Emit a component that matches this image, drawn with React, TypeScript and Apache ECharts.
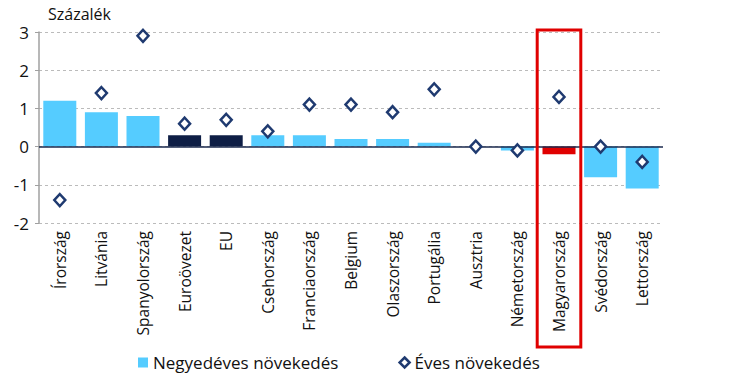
import React, { useEffect, useRef } from "react";
import * as echarts from "echarts";

const categories = ["Írország", "Litvánia", "Spanyolország", "Euroövezet", "EU", "Csehország", "Franciaország", "Belgium", "Olaszország", "Portugália", "Ausztria", "Németország", "Magyarország", "Svédország", "Lettország"];
const quarterly = [1.2, 0.9, 0.8, 0.3, 0.3, 0.3, 0.3, 0.2, 0.2, 0.1, 0.0, -0.1, -0.2, -0.8, -1.1];
const annual = [-1.4, 1.4, 2.9, 0.6, 0.7, 0.4, 1.1, 1.1, 0.9, 1.5, 0.0, -0.1, 1.3, 0.0, -0.4];
const yTicks = [-2, -1, 0, 1, 2, 3];
const darkCats = ["Euroövezet", "EU"];
const highlightCat = "Magyarország";

const LIGHT = "#55CCFF";
const DARK = "#0E1E45";
const RED = "#E00000";
const NAVY = "#1F3A70";

export default function App() {
  const ref = useRef<HTMLDivElement>(null);
  useEffect(() => {
    if (!ref.current) return;
    const chart = echarts.init(ref.current, undefined, { renderer: "svg" });
    const gridLeft = 39, gridRight = 67, gridTop = 32, gridBottom = 168;
    const plotW = 730 - gridLeft - gridRight;
    const catW = plotW / categories.length;
    const hi = categories.indexOf(highlightCat);
    chart.setOption({
      animation: false,
      grid: { left: gridLeft, right: gridRight, top: gridTop, bottom: gridBottom, containLabel: false },
      legend: {
        left: 133,
        top: 349,
        itemGap: 60,
        itemWidth: 10,
        itemHeight: 10,
        textStyle: { fontFamily: "Liberation Sans Narrow, Open Sans, sans-serif", fontSize: 17, color: "#111" },
        data: [
          { name: "Negyedéves növekedés", icon: "rect", itemStyle: { color: LIGHT } },
          { name: "Éves növekedés", icon: "diamond", itemStyle: { color: "#fff", borderColor: NAVY, borderWidth: 2.5 } },
        ],
      },
      xAxis: {
        type: "category",
        data: categories,
        position: "bottom",
        axisLine: { show: false, onZero: false },
        axisTick: { show: false },
        axisLabel: { rotate: 90, margin: 8, fontFamily: "Open Sans, sans-serif", fontSize: 15.5, color: "#111", interval: 0 },
        splitLine: { show: false },
      },
      yAxis: {
        type: "value",
        min: yTicks[0],
        max: yTicks[yTicks.length - 1],
        interval: 1,
        axisLine: { show: true, lineStyle: { color: "#A0A0A0", width: 1.5 } },
        axisTick: { show: true, length: 4, lineStyle: { color: "#A0A0A0" } },
        axisLabel: { fontFamily: "Open Sans, sans-serif", fontSize: 17, color: "#111", margin: 10 },
        splitLine: { show: true, lineStyle: { color: "#BBBBBB", type: [3, 3], width: 1 } },
      },
      series: [
        {
          name: "Negyedéves növekedés",
          type: "bar",
          barWidth: 33,
          data: quarterly.map((v, i) => ({
            value: v,
            itemStyle: { color: categories[i] === highlightCat ? RED : darkCats.includes(categories[i]) ? DARK : LIGHT },
          })),
          markLine: {
            silent: true,
            symbol: "none",
            label: { show: false },
            lineStyle: { color: "#1B2A4E", type: "solid", width: 1.5 },
            data: [{ yAxis: 0 }],
          },
          z: 2,
        },
        {
          name: "Éves növekedés",
          type: "scatter",
          symbol: "diamond",
          symbolSize: [11, 12],
          itemStyle: { color: "#ffffff", borderColor: NAVY, borderWidth: 2.5, opacity: 1 },
          data: annual,
          z: 5,
        },
      ],
      graphic: [
        {
          type: "text",
          left: 48,
          top: 6,
          style: { text: "Százalék", fontFamily: "Open Sans, sans-serif", fontSize: 16, fill: "#111" },
        },
        {
          type: "rect",
          shape: { x: gridLeft + catW * hi - 1, y: 30, width: catW + 2, height: 317 },
          style: { fill: "none", stroke: RED, lineWidth: 3 },
          z: 10,
        },
      ],
    });
    return () => chart.dispose();
  }, []);
  return <div ref={ref} style={{ width: 730, height: 391, position: "absolute", left: 0, top: 0 }} />;
}
